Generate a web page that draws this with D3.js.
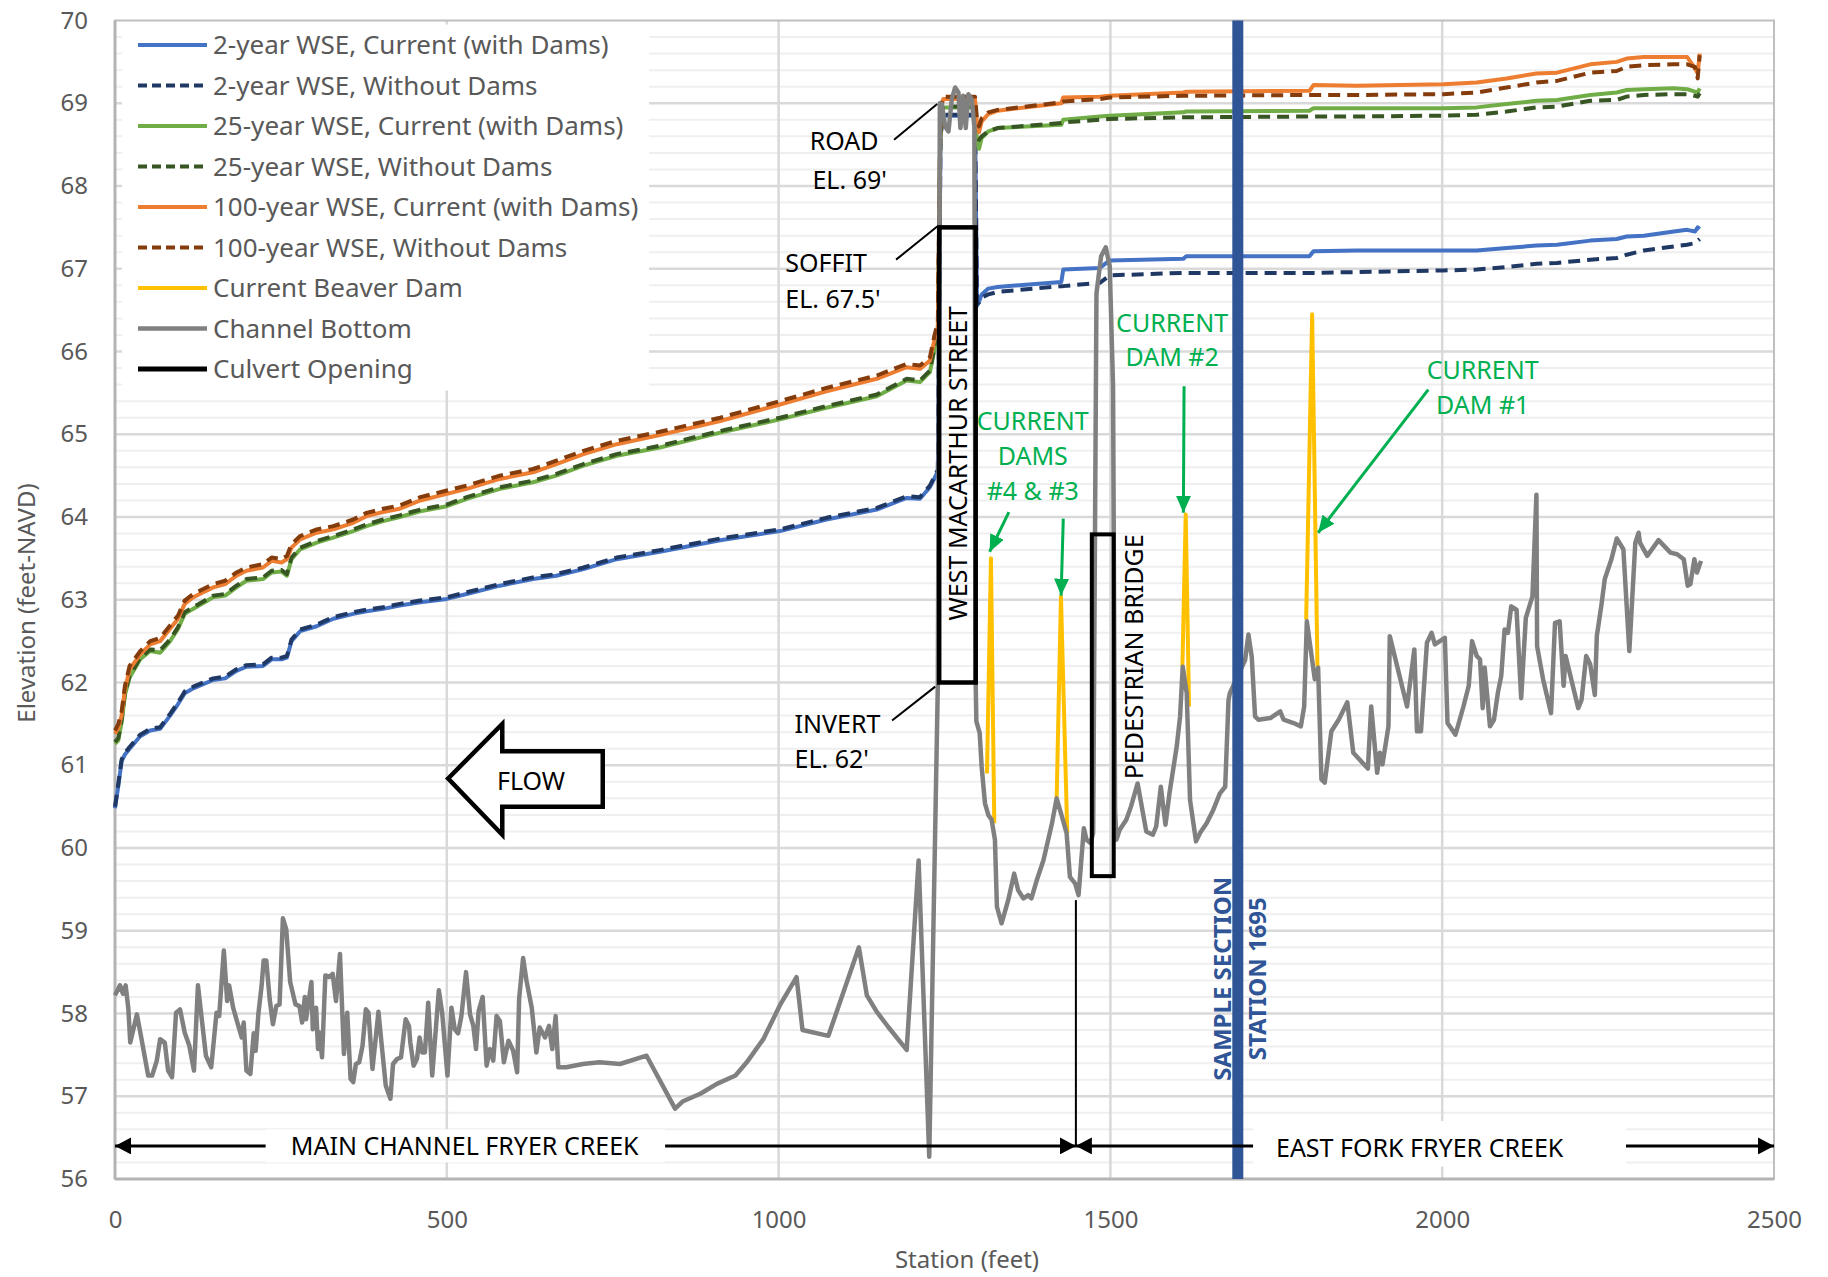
<!DOCTYPE html>
<html>
<head>
<meta charset="utf-8">
<title>Fryer Creek water surface profile</title>
<script src="https://cdn.jsdelivr.net/npm/d3@7"></script>
<style>
  body { margin: 0; background: #fff; }
  svg { font-family: "Noto Sans", "Open Sans", sans-serif; }
  .tick text { fill: #595959; font-size: 24px; font-family: "Noto Sans", "Open Sans", sans-serif; }
  .legend text { fill: #595959; font-size: 26px; }
  .note { font-size: 25px; fill: #000; }
  .green { font-size: 25px; fill: #00B050; }
</style>
</head>
<body>
<svg id="chart" width="1828" height="1277"></svg>
<script>
// axis ticks
var yTicks = [56, 57, 58, 59, 60, 61, 62, 63, 64, 65, 66, 67, 68, 69, 70];
var xTicks = [0, 500, 1000, 1500, 2000, 2500];

// water surface profiles (station in feet, elevation in feet-NAVD)
var wseStation = [0,5,10,15,22,38,53,68,83,95, 105,118,133,148,166,183,198,223,236,251,
  259,266,279,304,329,359,379,404,429,460, 500,530,580,630,665,706,756,821,912,1002,
  1072,1148,1193,1213,1228,1235,1240,1244,1248,1296, 1299,1302,1306,1316,1330,1426,1429,1484,1499,1610,
  1614,1800,1806,1871,2002,2052,2097,2142,2173,2223, 2263,2278,2304,2349,2369,2381,2385,2388];

var wse2Current = [60.48,60.75,61.05,61.13,61.20,61.35,61.42,61.44,61.60,61.74, 61.87,61.93,61.98,62.03,62.05,62.14,62.19,62.20,62.28,62.28,
  62.30,62.50,62.62,62.68,62.77,62.83,62.86,62.89,62.93,62.97, 63.01,63.07,63.17,63.25,63.29,63.37,63.49,63.58,63.72,63.83,
  63.97,64.09,64.23,64.22,64.36,64.47,64.55,68.60,68.85,68.85, 66.55,66.60,66.69,66.76,66.78,66.84,66.99,67.01,67.10,67.12,
  67.15,67.15,67.21,67.22,67.22,67.22,67.25,67.28,67.29,67.34, 67.36,67.39,67.40,67.45,67.47,67.45,67.50,67.48];

var wse2Without = [60.50,60.78,61.07,61.15,61.22,61.37,61.44,61.46,61.62,61.76, 61.89,61.95,62.00,62.05,62.07,62.16,62.21,62.22,62.30,62.30,
  62.32,62.52,62.64,62.70,62.79,62.85,62.88,62.91,62.95,62.99, 63.03,63.09,63.19,63.27,63.31,63.39,63.51,63.60,63.74,63.85,
  63.99,64.11,64.25,64.24,64.38,64.49,64.57,68.62,68.86,68.86, 66.58,66.59,66.65,66.69,66.72,66.79,66.79,66.83,66.92,66.95,
  66.95,66.95,66.95,66.96,66.98,66.99,67.02,67.06,67.07,67.11, 67.13,67.17,67.22,67.27,67.29,67.31,67.34,67.36];

var wse25Current = [61.26,61.30,61.52,61.85,62.06,62.28,62.38,62.36,62.50,62.65, 62.83,62.89,62.96,63.03,63.05,63.15,63.23,63.25,63.33,63.34,
  63.29,63.49,63.61,63.69,63.75,63.83,63.89,63.95,64.00,64.07, 64.13,64.22,64.34,64.42,64.50,64.62,64.74,64.84,65.02,65.18,
  65.32,65.46,65.65,65.63,65.75,66.03,66.20,68.80,68.95,68.95, 68.52,68.45,68.58,68.66,68.70,68.74,68.80,68.84,68.85,68.89,
  68.90,68.91,68.94,68.94,68.94,68.95,68.99,69.03,69.04,69.10, 69.13,69.16,69.17,69.18,69.17,69.14,69.13,69.18];

var wse25Without = [61.28,61.33,61.55,61.88,62.08,62.30,62.40,62.39,62.52,62.67, 62.85,62.91,62.98,63.05,63.07,63.17,63.25,63.27,63.35,63.36,
  63.31,63.51,63.63,63.71,63.77,63.85,63.91,63.97,64.02,64.09, 64.15,64.24,64.36,64.44,64.52,64.64,64.76,64.86,65.04,65.20,
  65.34,65.48,65.67,65.65,65.77,66.05,66.22,68.82,68.96,68.96, 68.58,68.56,68.60,68.66,68.70,68.76,68.77,68.80,68.81,68.83,
  68.83,68.84,68.84,68.84,68.85,68.86,68.90,68.95,68.96,69.03, 69.04,69.08,69.10,69.11,69.11,69.09,69.08,69.12];

var wse100Current = [61.38,61.45,61.60,61.92,62.16,62.34,62.46,62.50,62.65,62.77, 62.95,63.03,63.09,63.15,63.19,63.29,63.35,63.39,63.47,63.45,
  63.49,63.63,63.73,63.81,63.85,63.93,64.01,64.06,64.10,64.20, 64.28,64.34,64.46,64.54,64.64,64.76,64.88,64.99,65.16,65.36,
  65.52,65.67,65.81,65.79,65.89,66.15,66.30,68.90,69.05,69.05, 68.74,68.65,68.78,68.87,68.91,69.00,69.07,69.08,69.09,69.13,
  69.14,69.15,69.22,69.21,69.23,69.25,69.30,69.36,69.37,69.47, 69.50,69.54,69.56,69.56,69.56,69.42,69.36,69.60];

var wse100Without = [61.42,61.50,61.65,61.96,62.20,62.38,62.50,62.54,62.69,62.81, 62.99,63.07,63.13,63.19,63.23,63.33,63.39,63.43,63.51,63.49,
  63.53,63.67,63.77,63.85,63.89,63.97,64.05,64.10,64.14,64.24, 64.32,64.38,64.50,64.58,64.68,64.80,64.92,65.03,65.20,65.40,
  65.56,65.71,65.85,65.83,65.93,66.20,66.35,68.95,69.08,69.08, 68.80,68.72,68.82,68.89,68.92,69.01,69.02,69.05,69.07,69.09,
  69.09,69.10,69.10,69.10,69.11,69.13,69.19,69.25,69.27,69.37, 69.39,69.44,69.46,69.47,69.47,69.44,69.30,69.58];

// channel bottom
var bedStation = [0,7.5,12,16,20,23,33,40,50,56, 63,68,75,80,86,92,98,105,112,119,
  125,137,145,153,157,164,169,172,178,183, 191,194,198,204,209,212,216,221,224,228,
  233,238,243,248,253,258,264,272,278,282, 286,288,296,298,303,306,308,312,317,323,
  328,333,339,345,350,355,359,363,368,373, 378,382,388,397,403,408,415,419,425,431,
  438,443,445,450,455,459,463,467,472,478, 488,493,501,507,512,517,522,529,535,540,
  544,548,554,560,565,570,575,580,586,593, 600,606,609,615,620,628,635,640,648,654,
  659,664,668,680,705,730,761,801,844,856, 882,907,935,952,977,1002,1027,1036,1075,1121,
  1133,1148,1165,1193,1211,1227,1240,1243,1246,1251, 1256,1261,1266,1271,1274,1278,1282,1286,1291,1295,
  1297,1298,1303,1306,1311,1316,1321,1326,1329,1336, 1346,1355,1361,1369,1376,1381,1389,1399,1404,1412,
  1419,1427,1434,1439,1447,1452,1460,1464,1470,1474, 1479,1486,1493,1499,1504,1507,1509,1514,1524,1531,
  1541,1554,1564,1569,1576,1583,1589,1600,1605,1609, 1615,1620,1629,1635,1645,1655,1665,1673,1678,1680,
  1703,1708,1713,1718,1723,1741,1756,1761,1776,1787, 1792,1796,1808,1813,1818,1823,1833,1844,1857,1866,
  1888,1893,1902,1906,1910,1919,1921,1947,1958,1962, 1968,1977,1984,1989,2004,2008,2020,2032,2040,2045,
  2052,2057,2061,2064,2072,2078,2084,2089,2094,2099, 2104,2112,2119,2126,2136,2142,2143,2152,2164,2170,
  2177,2183,2186,2195,2205,2210,2217,2223,2230,2233, 2240,2245,2255,2263,2273,2282,2291,2296,2298,2309,
  2326,2344,2354,2364,2370,2374,2380,2384,2390];
var bedElev = [58.22,58.34,58.24,58.34,58.07,57.65,57.99,57.69,57.25,57.25, 57.43,57.69,57.65,57.31,57.23,58.01,58.05,57.77,57.61,57.31,
  58.34,57.49,57.35,58.01,57.97,58.76,58.15,58.34,58.07,57.93, 57.71,57.89,57.31,57.27,57.76,57.55,57.99,58.34,58.64,58.64,
  58.18,57.87,58.09,58.11,59.15,59.02,58.38,58.11,58.09,57.89, 58.20,57.93,58.38,57.81,58.07,57.57,57.77,57.47,58.46,58.44,
  58.48,58.15,58.72,57.51,58.01,57.21,57.17,57.39,57.41,57.61, 58.05,58.01,57.33,58.02,57.53,57.13,56.97,57.39,57.45,57.47,
  57.93,57.85,57.65,57.37,57.45,57.71,57.53,57.53,58.13,57.25, 58.28,58.01,57.25,58.07,57.81,57.76,57.97,58.50,57.99,57.85,
  57.57,58.03,58.20,57.37,57.57,57.43,57.97,57.91,57.41,57.67, 57.55,57.29,58.18,58.67,58.40,58.07,57.53,57.83,57.71,57.85,
  57.57,57.97,57.35,57.35,57.39,57.41,57.39,57.49,56.85,56.94, 57.03,57.15,57.25,57.41,57.69,58.10,58.44,57.80,57.73,58.80,
  58.22,58.02,57.84,57.56,59.85,56.27,62.00,69.00,68.99,68.72, 68.66,69.05,69.19,69.13,68.70,69.09,68.70,69.11,69.05,68.72,
  62.00,61.53,61.39,60.98,60.54,60.40,60.34,60.10,59.29,59.09, 59.37,59.69,59.49,59.39,59.43,59.39,59.61,59.85,60.02,60.30,
  60.60,60.38,60.18,59.65,59.57,59.43,60.24,60.10,60.06,60.18, 66.70,67.15,67.26,67.03,65.58,60.46,60.10,60.22,60.34,60.50,
  60.78,60.20,60.16,60.26,60.74,60.28,60.66,61.23,61.59,62.19, 61.87,60.58,60.08,60.18,60.30,60.46,60.66,60.74,61.79,61.87,
  62.27,62.58,62.31,61.59,61.55,61.57,61.65,61.55,61.51,61.47, 61.71,62.74,62.04,62.18,60.83,60.79,61.41,61.55,61.76,61.15,
  60.96,61.71,60.91,61.15,61.01,61.47,62.56,61.71,62.40,61.41, 61.41,62.48,62.60,62.46,62.54,61.51,61.37,61.71,61.96,62.50,
  62.32,62.28,61.69,62.18,61.47,61.55,61.88,62.08,62.64,62.60, 62.92,62.88,61.81,62.78,63.04,64.27,62.44,62.04,61.63,62.72,
  62.74,61.96,62.32,62.02,61.69,61.79,62.32,62.22,61.85,62.56, 62.94,63.25,63.49,63.74,63.61,62.38,63.69,63.81,63.69,63.53,
  63.72,63.57,63.55,63.49,63.17,63.19,63.49,63.33,63.47];

// current beaver dams (#4, #3, #2, #1)
var damStation = [[1314, 1320, 1325], [1419, 1425.5, 1435], [1608.5, 1613.5, 1618.5], [1795, 1804, 1812]];
var damElev = [[60.90, 63.50, 60.30], [60.60, 63.04, 60.18], [62.19, 64.03, 61.71], [62.76, 66.45, 62.20]];

// structures
var culvertStation = [1242, 1297];
var culvertElev = [62.0, 67.5];
var bridgeStation = [1472, 1505];
var bridgeElev = [59.66, 63.79];
var sampleStation = 1692;
var reachSplit = 1448;

var series = [
  { name: "2-year WSE, Current (with Dams)", values: wse2Current, color: "#4472C4", dash: null },
  { name: "2-year WSE, Without Dams", values: wse2Without, color: "#203864", dash: "12,7" },
  { name: "25-year WSE, Current (with Dams)", values: wse25Current, color: "#70AD47", dash: null },
  { name: "25-year WSE, Without Dams", values: wse25Without, color: "#375623", dash: "12,7" },
  { name: "100-year WSE, Current (with Dams)", values: wse100Current, color: "#ED7D31", dash: null },
  { name: "100-year WSE, Without Dams", values: wse100Without, color: "#843C0C", dash: "12,7" }
];
var legendItems = series.map(function (s) { return { name: s.name, color: s.color, dash: s.dash, w: 4 }; })
  .concat([
    { name: "Current Beaver Dam", color: "#FFC000", dash: null, w: 4 },
    { name: "Channel Bottom", color: "#808080", dash: null, w: 4.5 },
    { name: "Culvert Opening", color: "#000000", dash: null, w: 5 }
  ]);

var svg = d3.select("#chart");
var plotL = 115, plotR = 1774, plotT = 20.5, plotB = 1179;

var x = d3.scaleLinear().domain([0, 2500]).range([plotL, plotR]);
var y = d3.scaleLinear().domain([56, 70]).range([plotB, plotT]);

var line = d3.line().x(function (d) { return x(d[0]); }).y(function (d) { return y(d[1]); });

// markers
var defs = svg.append("defs");
function marker(id, color, len, wid) {
  defs.append("marker").attr("id", id)
    .attr("viewBox", "0 0 " + len + " " + wid)
    .attr("refX", len).attr("refY", wid / 2)
    .attr("markerWidth", len).attr("markerHeight", wid)
    .attr("markerUnits", "userSpaceOnUse")
    .attr("orient", "auto-start-reverse")
    .append("path")
    .attr("d", "M0,0L" + len + "," + (wid / 2) + "L0," + wid + "Z")
    .attr("fill", color);
}
marker("greenHead", "#00B050", 17, 15);
marker("blackHead", "#000", 16, 17);

// gridlines
var minor = d3.range(0, 71).map(function (i) { return 56 + i * 0.2; })
  .filter(function (v) { return Math.abs(v - Math.round(v)) > 0.01; });
svg.append("g").selectAll("line").data(minor).enter().append("line")
  .attr("x1", plotL).attr("x2", plotR)
  .attr("y1", function (d) { return y(d); }).attr("y2", function (d) { return y(d); })
  .attr("stroke", "#efefef").attr("stroke-width", 2);
svg.append("g").selectAll("line").data(yTicks.slice(1, -1)).enter().append("line")
  .attr("x1", plotL).attr("x2", plotR)
  .attr("y1", function (d) { return y(d); }).attr("y2", function (d) { return y(d); })
  .attr("stroke", "#d9d9d9").attr("stroke-width", 2.5);
svg.append("g").selectAll("line").data(xTicks.slice(1, -1)).enter().append("line")
  .attr("y1", plotT).attr("y2", plotB)
  .attr("x1", function (d) { return x(d); }).attr("x2", function (d) { return x(d); })
  .attr("stroke", "#d9d9d9").attr("stroke-width", 2.5);

// frame
svg.append("rect").attr("x", plotL).attr("y", plotT).attr("width", plotR - plotL).attr("height", plotB - plotT)
  .attr("fill", "none").attr("stroke", "#bfbfbf").attr("stroke-width", 2);
svg.append("line").attr("x1", plotL).attr("x2", plotL).attr("y1", plotT).attr("y2", plotB)
  .attr("stroke", "#b4b4b4").attr("stroke-width", 3);
svg.append("line").attr("x1", plotL).attr("x2", plotR).attr("y1", plotB).attr("y2", plotB)
  .attr("stroke", "#b4b4b4").attr("stroke-width", 3);

// axes
var yAxis = svg.append("g").attr("transform", "translate(" + plotL + ",0)")
  .call(d3.axisLeft(y).tickValues(yTicks).tickSize(0).tickPadding(27).tickFormat(d3.format("d")));
yAxis.select(".domain").remove();
var xAxis = svg.append("g").attr("transform", "translate(0," + plotB + ")")
  .call(d3.axisBottom(x).tickValues(xTicks).tickSize(0).tickPadding(32).tickFormat(d3.format("d")));
xAxis.select(".domain").remove();

svg.append("text").attr("x", 967).attr("y", 1268).attr("text-anchor", "middle")
  .attr("fill", "#595959").style("font-size", "24px").text("Station (feet)");
svg.append("text").attr("transform", "translate(35,603) rotate(-90)").attr("text-anchor", "middle")
  .attr("fill", "#595959").style("font-size", "24px").text("Elevation (feet-NAVD)");

// legend background
svg.append("rect").attr("x", plotL + 7).attr("y", plotT + 4).attr("width", 527).attr("height", 366).attr("fill", "#fff");

// series
var plot = svg.append("g");
series.forEach(function (s) {
  plot.append("path").datum(d3.zip(wseStation, s.values))
    .attr("d", line).attr("fill", "none")
    .attr("stroke", s.color).attr("stroke-width", 4)
    .attr("stroke-dasharray", s.dash)
    .attr("stroke-linejoin", "round");
});
damStation.forEach(function (st, i) {
  plot.append("path").datum(d3.zip(st, damElev[i]))
    .attr("d", line).attr("fill", "none")
    .attr("stroke", "#FFC000").attr("stroke-width", 4).attr("stroke-linejoin", "round");
});
plot.append("path").datum(d3.zip(bedStation, bedElev))
  .attr("d", line).attr("fill", "none")
  .attr("stroke", "#808080").attr("stroke-width", 4.5).attr("stroke-linejoin", "round");

// culvert and pedestrian bridge
plot.append("rect")
  .attr("x", x(culvertStation[0])).attr("y", y(culvertElev[1]))
  .attr("width", x(culvertStation[1]) - x(culvertStation[0]))
  .attr("height", y(culvertElev[0]) - y(culvertElev[1]))
  .attr("fill", "none").attr("stroke", "#000").attr("stroke-width", 4.5);
plot.append("rect")
  .attr("x", x(bridgeStation[0])).attr("y", y(bridgeElev[1]))
  .attr("width", x(bridgeStation[1]) - x(bridgeStation[0]))
  .attr("height", y(bridgeElev[0]) - y(bridgeElev[1]))
  .attr("fill", "none").attr("stroke", "#000").attr("stroke-width", 4);

// sample section
plot.append("line").attr("x1", x(sampleStation)).attr("x2", x(sampleStation))
  .attr("y1", plotT).attr("y2", plotB).attr("stroke", "#2F5597").attr("stroke-width", 11);

function vtext(st, el, str, cls, extra) {
  var t = svg.append("text")
    .attr("transform", "translate(" + x(st) + "," + y(el) + ") rotate(-90)")
    .attr("text-anchor", "middle").attr("class", cls).text(str);
  if (extra) extra(t);
  return t;
}
function htext(st, el, str, cls, anchor) {
  return svg.append("text").attr("x", x(st)).attr("y", y(el))
    .attr("text-anchor", anchor || "start").attr("class", cls).text(str);
}
function seg(a, b, color, w, mk) {
  var l = svg.append("line")
    .attr("x1", x(a[0])).attr("y1", y(a[1])).attr("x2", x(b[0])).attr("y2", y(b[1]))
    .attr("stroke", color).attr("stroke-width", w);
  if (mk) l.attr("marker-end", "url(#" + mk + ")");
  return l;
}

vtext(1284, 64.65, "WEST MACARTHUR STREET", "note");
vtext(1549, 62.31, "PEDESTRIAN BRIDGE", "note");
vtext(1681.5, 58.42, "SAMPLE SECTION", "note", function (t) { t.style("fill", "#2F5597").style("font-weight", "bold").style("font-size", "24px"); });
vtext(1734.5, 58.42, "STATION 1695", "note", function (t) { t.style("fill", "#2F5597").style("font-weight", "bold").style("font-size", "24px"); });

// structure callouts
htext(1047, 68.43, "ROAD", "note");
htext(1051, 67.96, "EL. 69'", "note");
seg([1174, 68.56], [1239, 68.99], "#000", 2);
htext(1010, 66.96, "SOFFIT", "note");
htext(1010, 66.53, "EL. 67.5'", "note");
seg([1177, 67.11], [1239, 67.51], "#000", 2);
htext(1024, 61.39, "INVERT", "note");
htext(1024, 60.97, "EL. 62'", "note");
seg([1171, 61.54], [1236, 61.95], "#000", 2);

// dam callouts
htext(1383, 65.05, "CURRENT", "green", "middle");
htext(1383, 64.63, "DAMS", "green", "middle");
htext(1383, 64.21, "#4 & #3", "green", "middle");
seg([1347, 64.06], [1318, 63.58], "#00B050", 3, "greenHead");
seg([1429, 63.98], [1425.7, 63.05], "#00B050", 3, "greenHead");
htext(1593, 66.24, "CURRENT", "green", "middle");
htext(1593, 65.82, "DAM #2", "green", "middle");
seg([1611, 65.58], [1610, 64.05], "#00B050", 3, "greenHead");
htext(2061, 65.67, "CURRENT", "green", "middle");
htext(2061, 65.24, "DAM #1", "green", "middle");
seg([1979, 65.54], [1813, 63.81], "#00B050", 3, "greenHead");

// flow arrow
var flow = [[502, 60.84], [583.6, 61.50], [583.6, 61.17], [735, 61.17], [735, 60.50], [583.6, 60.50], [583.6, 60.16]];
svg.append("polygon")
  .attr("points", flow.map(function (p) { return x(p[0]) + "," + y(p[1]); }).join(" "))
  .attr("fill", "#fff").attr("stroke", "#000").attr("stroke-width", 4.5).attr("stroke-linejoin", "miter");
htext(627, 60.70, "FLOW", "note", "middle");

// reach arrows along the bottom
seg([reachSplit, 59.37], [reachSplit, 56.4], "#000", 2);
seg([0, 56.4], [reachSplit, 56.4], "#000", 3).attr("marker-start", "url(#blackHead)").attr("marker-end", "url(#blackHead)");
seg([reachSplit, 56.4], [2500, 56.4], "#000", 3).attr("marker-start", "url(#blackHead)").attr("marker-end", "url(#blackHead)");
svg.append("rect").attr("x", x(227)).attr("y", y(56.6)).attr("width", x(829) - x(227)).attr("height", y(56.2) - y(56.6)).attr("fill", "#fff");
svg.append("rect").attr("x", x(1715)).attr("y", y(56.7)).attr("width", x(2277) - x(1715)).attr("height", y(56.15) - y(56.7)).attr("fill", "#fff");
htext(527, 56.29, "MAIN CHANNEL FRYER CREEK", "note", "middle");
htext(1966, 56.26, "EAST FORK FRYER CREEK", "note", "middle");

// legend
var lg = svg.append("g").attr("class", "legend");
legendItems.forEach(function (d, i) {
  var cy = 45 + i * 40.5;
  lg.append("line").attr("x1", 138).attr("x2", 207).attr("y1", cy).attr("y2", cy)
    .attr("stroke", d.color).attr("stroke-width", d.w)
    .attr("stroke-dasharray", d.dash ? "9,5" : null);
  lg.append("text").attr("x", 213).attr("y", cy).attr("dy", "0.35em").text(d.name);
});
</script>
</body>
</html>
